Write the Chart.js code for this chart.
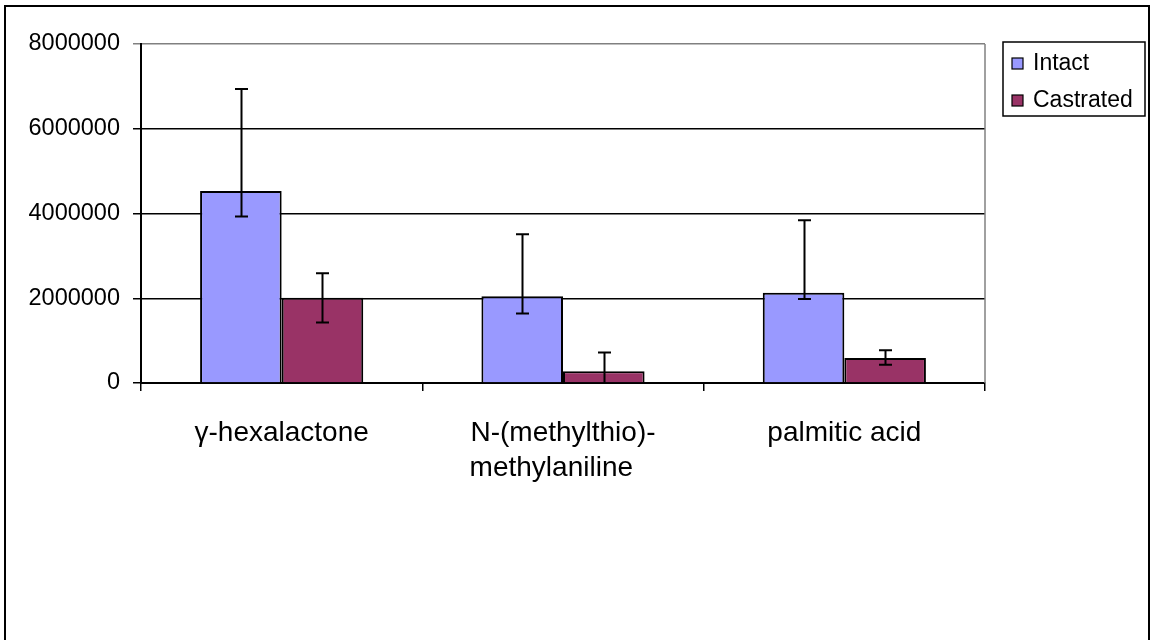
<!DOCTYPE html>
<html>
<head>
<meta charset="utf-8">
<title>Intact vs Castrated</title>
<script src="https://cdn.jsdelivr.net/npm/chart.js@4.4.1/dist/chart.umd.min.js"></script>
<style>
  html, body { margin: 0; padding: 0; background: #fff; }
  #wrap { width: 1151px; height: 640px; position: relative; }
</style>
</head>
<body>
<div id="wrap"><canvas id="chart"></canvas></div>
<script>
// data
// (second line padded so both lines start at the same x, as in the original)
var categories = ["\u03b3-hexalactone", ["N-(methylthio)-", "methylaniline   "], "palmitic acid"];
var seriesNames = ["Intact", "Castrated"];
var seriesColors = ["#9999ff", "#993366"];

var intact = [4530000, 2050000, 2130000];
var castrated = [2010000, 280000, 590000];

// error bar ends (upper / lower value)
var intactUpper = [6940000, 3510000, 3840000];
var intactLower = [3930000, 1640000, 1980000];
var castratedUpper = [2590000, 720000, 770000];
var castratedLower = [1430000, -160000, 430000];

var yTicks = [0, 2000000, 4000000, 6000000, 8000000];

var FONT = '"Liberation Sans", Arial, sans-serif';
Chart.defaults.font.family = FONT;
Chart.defaults.color = "#000";

var errorEnds = [
  { up: intactUpper, low: intactLower },
  { up: castratedUpper, low: castratedLower }
];

var errorBars = {
  id: "errorBars",
  afterDatasetsDraw: function (chart) {
    var ctx = chart.ctx;
    var area = chart.chartArea;
    var y = chart.scales.y;
    ctx.save();
    ctx.beginPath();
    ctx.rect(area.left, area.top - 2, area.right - area.left, area.bottom - area.top + 2);
    ctx.clip();
    ctx.strokeStyle = "#000";
    ctx.lineWidth = 2;
    chart.data.datasets.forEach(function (ds, di) {
      var meta = chart.getDatasetMeta(di);
      meta.data.forEach(function (bar, i) {
        var yu = y.getPixelForValue(errorEnds[di].up[i]);
        var yl = y.getPixelForValue(errorEnds[di].low[i]);
        var x = Math.round(bar.x) + 0.5;
        ctx.beginPath();
        ctx.moveTo(x, yu);
        ctx.lineTo(x, yl);
        ctx.moveTo(x - 6.5, yu);
        ctx.lineTo(x + 6.5, yu);
        ctx.moveTo(x - 6.5, yl);
        ctx.lineTo(x + 6.5, yl);
        ctx.stroke();
      });
    });
    ctx.restore();
  }
};

var frame = {
  id: "frame",
  afterDraw: function (chart) {
    var ctx = chart.ctx;
    var area = chart.chartArea;
    ctx.save();
    // plot area right edge (grey)
    ctx.strokeStyle = "#808080";
    ctx.lineWidth = 1.5;
    ctx.beginPath();
    ctx.moveTo(area.right, area.top);
    ctx.lineTo(area.right, area.bottom);
    ctx.stroke();

    // outer chart border
    ctx.strokeStyle = "#000";
    ctx.lineWidth = 2;
    ctx.strokeRect(5, 6, 1144, 700);

    // legend
    ctx.lineWidth = 1.5;
    ctx.strokeRect(1003, 42, 142, 74);
    ctx.font = "23px " + FONT;
    ctx.textBaseline = "alphabetic";
    ctx.textAlign = "left";
    var rows = [70, 107];
    chart.data.datasets.forEach(function (ds, i) {
      var base = rows[i];
      ctx.fillStyle = ds.backgroundColor;
      ctx.fillRect(1012, base - 12, 11, 11);
      ctx.lineWidth = 1.2;
      ctx.strokeStyle = "#000";
      ctx.strokeRect(1012, base - 12, 11, 11);
      ctx.fillStyle = "#000";
      ctx.fillText(ds.label, 1033, base);
    });
    ctx.restore();
  }
};

new Chart(document.getElementById("chart"), {
  type: "bar",
  data: {
    labels: categories,
    datasets: [
      {
        label: seriesNames[0],
        data: intact,
        backgroundColor: seriesColors[0],
        borderColor: "#000",
        borderWidth: 2,
        categoryPercentage: 0.58,
        barPercentage: 1.0
      },
      {
        label: seriesNames[1],
        data: castrated,
        backgroundColor: seriesColors[1],
        borderColor: "#000",
        borderWidth: 2,
        categoryPercentage: 0.58,
        barPercentage: 1.0
      }
    ]
  },
  options: {
    responsive: true,
    maintainAspectRatio: false,
    animation: false,
    layout: { padding: { top: 44, right: 166, left: 0, bottom: 0 } },
    plugins: {
      legend: { display: false },
      tooltip: { enabled: false }
    },
    scales: {
      x: {
        afterFit: function (s) { s.height = 257; },
        border: { color: "#000", width: 2 },
        grid: { drawOnChartArea: false, drawTicks: true, tickLength: 8, color: "#000", lineWidth: 1.5 },
        ticks: { font: { size: 28, lineHeight: 1.25 }, padding: 25, color: "#000", maxRotation: 0, autoSkip: false }
      },
      y: {
        min: 0,
        max: 8000000,
        afterFit: function (s) { s.width = 141; },
        afterBuildTicks: function (s) {
          s.ticks = yTicks.map(function (v) { return { value: v }; });
        },
        border: { color: "#000", width: 2 },
        grid: {
          tickLength: 8,
          lineWidth: 1.5,
          color: function (c) { return c.tick && c.tick.value === 8000000 ? "#808080" : "#000"; }
        },
        ticks: {
          font: { size: 23.5 },
          padding: 13,
          color: "#000",
          callback: function (v) { return String(v); }
        }
      }
    }
  },
  plugins: [errorBars, frame]
});
</script>
</body>
</html>
